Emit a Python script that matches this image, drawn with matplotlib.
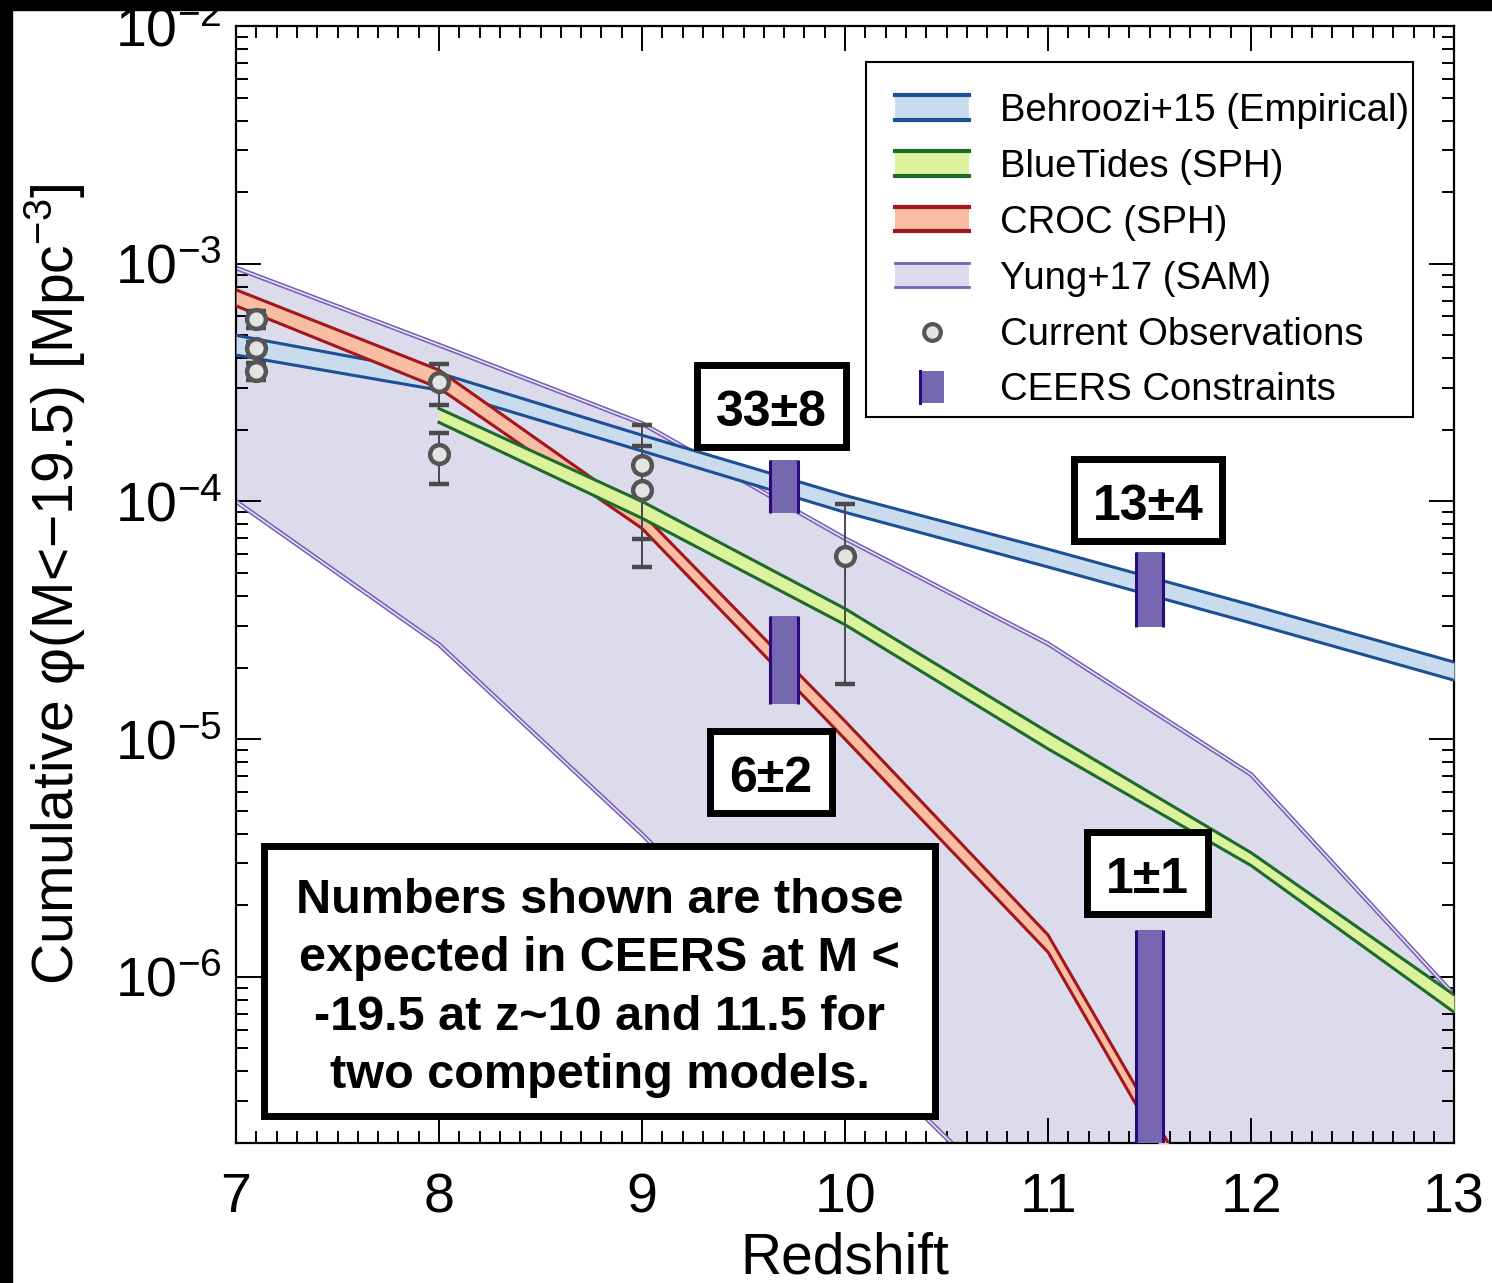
import numpy as np
import matplotlib
matplotlib.use("Agg")
import matplotlib.pyplot as plt
from matplotlib.patches import Rectangle, Patch
from matplotlib.lines import Line2D
from matplotlib.path import Path
from matplotlib.legend_handler import HandlerBase

plt.rcParams['font.family'] = ['Liberation Sans', 'DejaVu Sans']
plt.rcParams['mathtext.fontset'] = 'custom'
plt.rcParams['mathtext.rm'] = 'Liberation Sans'
plt.rcParams['mathtext.it'] = 'Liberation Sans:italic'
plt.rcParams['mathtext.bf'] = 'Liberation Sans:bold'

# ---------------- data ----------------
z_models = [7, 8, 9, 10, 11, 12, 13]
behroozi_hi = [5.0e-4, 3.47e-4, 1.90e-4, 1.06e-4, 6.3e-5, 3.67e-5, 2.11e-5]
behroozi_lo = [4.13e-4, 2.94e-4, 1.63e-4, 9.0e-5, 5.3e-5, 3.08e-5, 1.77e-5]

z_bluetides = [8, 9, 10, 11, 12, 13]
bluetides_hi = [2.46e-4, 1.0e-4, 3.54e-5, 1.07e-5, 3.33e-6, 8.4e-7]
bluetides_lo = [2.15e-4, 8.5e-5, 3.03e-5, 9.1e-6, 2.94e-6, 7.1e-7]

z_croc = [7, 8, 9, 10, 11, 12]
croc_hi = [7.77e-4, 3.57e-4, 8.9e-5, 1.19e-5, 1.50e-6, 5.0e-8]
croc_lo = [6.65e-4, 3.0e-4, 7.7e-5, 1.0e-5, 1.27e-6, 4.2e-8]

yung_hi = [9.6e-4, 4.55e-4, 2.13e-4, 6.98e-5, 2.52e-5, 7.1e-6, 8.4e-7]
yung_lo = [1.0e-4, 2.5e-5, 3.98e-6, 5.5e-7, 8.0e-8, 1.2e-8, 2.0e-9]

obs_z = [7.1, 7.1, 7.1, 8.0, 8.0, 9.0, 9.0, 10.0]
obs_phi = [5.86e-4, 4.43e-4, 3.54e-4, 3.18e-4, 1.58e-4, 1.42e-4, 1.12e-4, 5.9e-5]
obs_lo = [5.37e-4, 4.2e-4, 3.24e-4, 2.54e-4, 1.19e-4, 6.98e-5, 5.32e-5, 1.71e-5]
obs_hi = [6.34e-4, 4.7e-4, 3.82e-4, 3.79e-4, 1.95e-4, 1.71e-4, 2.09e-4, 9.8e-5]

ceers_z = [9.7, 9.7, 11.5, 11.5]
ceers_lo = [8.9e-5, 1.41e-5, 2.97e-5, 1.0e-8]
ceers_hi = [1.49e-4, 3.3e-5, 6.15e-5, 1.58e-6]
ceers_labels = ["33\u00b18", "6\u00b12", "13\u00b14", "1\u00b11"]

legend_labels = ["Behroozi+15 (Empirical)", "BlueTides (SPH)", "CROC (SPH)",
                 "Yung+17 (SAM)", "Current Observations", "CEERS Constraints"]

note = ("Numbers shown are those\nexpected in CEERS at M <\n"
        "-19.5 at z~10 and 11.5 for\ntwo competing models.")

# ---------------- colours ----------------
c_blue_f, c_blue_e = '#c9dcee', '#1c4f96'
c_green_f, c_green_e = '#dcf29c', '#1d6a2b'
c_red_f, c_red_e = '#f8bda3', '#a3161a'
c_purp_f, c_purp_e = '#dcdbec', '#7b5fb9'
c_ceers_f, c_ceers_e = '#7567b0', '#2c0a7c'

fig = plt.figure(figsize=(14.92, 12.83), dpi=100)
fig.patch.set_facecolor('white')
ax = fig.add_axes([0.1582, 0.1091, 0.8164, 0.8706])

# Yung band
ax.fill_between(z_models, yung_lo, yung_hi, color=c_purp_f, lw=0, zorder=1)
for arr in (yung_hi, yung_lo):
    ax.plot(z_models, arr, color=c_purp_e, lw=3.4, zorder=2, solid_capstyle='butt')
    ax.plot(z_models, arr, color='#ece8f6', lw=1.1, zorder=2.1, solid_capstyle='butt')

def band(z, lo, hi, fc, ec, zo):
    ax.fill_between(z, lo, hi, color=fc, lw=0, zorder=zo)
    ax.plot(z, hi, color=ec, lw=2.2, zorder=zo + 0.1)
    ax.plot(z, lo, color=ec, lw=2.2, zorder=zo + 0.1)

band(z_models, behroozi_lo, behroozi_hi, c_blue_f, c_blue_e, 3)
band(z_croc, croc_lo, croc_hi, c_red_f, c_red_e, 4)
band(z_bluetides, bluetides_lo, bluetides_hi, c_green_f, c_green_e, 5)

# observations
obs_phi_a = np.array(obs_phi)
yerr = [obs_phi_a - np.array(obs_lo), np.array(obs_hi) - obs_phi_a]
ax.errorbar(obs_z, obs_phi, yerr=yerr, fmt='o', ms=13.5, mfc='#e4e4e4', mec='#555555',
            mew=3.2, ecolor='#4a4a4a', elinewidth=1.4, capsize=7, capthick=1.4, zorder=7)

# CEERS bars
bw = 0.135
ceers_lo_a = np.array(ceers_lo)
ceers_hi_a = np.array(ceers_hi)
ax.bar(ceers_z, ceers_hi_a - ceers_lo_a, bottom=ceers_lo_a, width=bw, color=c_ceers_f,
       lw=0, zorder=8)
for zc, lo, hi in zip(ceers_z, ceers_lo, ceers_hi):
    ax.vlines([zc - bw / 2, zc + bw / 2], lo, hi, color=c_ceers_e, lw=2.2, zorder=8.1)

# axes setup
ax.set_yscale('log')
ax.set_xlim(7, 13)
ax.set_ylim(2.0e-7, 1e-2)
ax.set_xticks([7, 8, 9, 10, 11, 12, 13])
ax.set_xticks(np.arange(7, 13.001, 0.1), minor=True)
ax.tick_params(which='both', direction='in', top=True, right=True, width=1.4,
               labelsize=40, colors='black')
ax.tick_params(which='major', length=18)
ax.tick_params(which='minor', length=8.5)
ax.tick_params(axis='x', pad=21)
ax.tick_params(axis='y', pad=10)
for s in ax.spines.values():
    s.set_linewidth(1.6)
ax.set_xlabel('Redshift', fontsize=41, labelpad=5)
ax.set_ylabel('Cumulative \u03c6(M<\u221219.5) [Mpc$^{-3}$]', fontsize=41, labelpad=19)

# custom boxstyle with separate horizontal / bottom / top padding
def rect_box(padx, pad_bottom, pad_top):
    def f(x0, y0, width, height, mutation_size):
        px = padx * mutation_size
        pb = pad_bottom * mutation_size
        pt = pad_top * mutation_size
        return Path([(x0 - px, y0 - pb), (x0 + width + px, y0 - pb),
                     (x0 + width + px, y0 + height + pt), (x0 - px, y0 + height + pt),
                     (x0 - px, y0 - pb)], closed=True)
    return f

label_pos = [(0.4392, 0.6535), (0.4392, 0.3258), (0.7488, 0.5694), (0.748, 0.2354)]
for (xp, yp), lab in zip(label_pos, ceers_labels):
    ax.text(xp, yp, lab, transform=ax.transAxes, fontsize=36, fontweight='bold',
            ha='center', va='center', zorder=10,
            bbox=dict(boxstyle=rect_box(0.38, 0.215, 0.495), fc='white', ec='black', lw=5))

ax.text(0.2984, 0.1387, note, transform=ax.transAxes, fontsize=35, fontweight='bold',
        ha='center', va='center', linespacing=1.383, zorder=10,
        bbox=dict(boxstyle=rect_box(0.66, 0.376, 0.664), fc='white', ec='black', lw=5))

# legend
class BandHandler(HandlerBase):
    def __init__(self, fc, ec, lw):
        super().__init__()
        self.fc, self.ec, self.lw = fc, ec, lw
    def create_artists(self, legend, orig_handle, xdescent, ydescent, width, height,
                       fontsize, trans):
        x0, y0 = -xdescent, -ydescent
        r = Rectangle((x0, y0), width, height, fc=self.fc, ec='none', transform=trans)
        l1 = Line2D([x0, x0 + width], [y0 + height] * 2, color=self.ec, lw=self.lw, transform=trans)
        l2 = Line2D([x0, x0 + width], [y0] * 2, color=self.ec, lw=self.lw, transform=trans)
        return [r, l1, l2]

class BarHandler(HandlerBase):
    def create_artists(self, legend, orig_handle, xdescent, ydescent, width, height,
                       fontsize, trans):
        w = 0.32 * width
        h = height * 1.3
        x0 = -xdescent + (width - w) / 2
        y0 = -ydescent + (height - h) / 2
        r = Rectangle((x0, y0), w, h, fc=c_ceers_f, ec='none', transform=trans)
        l1 = Line2D([x0, x0], [y0, y0 + h], color=c_ceers_e, lw=2.2, transform=trans)
        return [r, l1]

# legend frame drawn separately so that the rows sit where they do in the original
ax.add_patch(Rectangle((0.5172, 0.6500), 0.4491, 0.3178, transform=ax.transAxes,
                       fc='white', ec='black', lw=1.5, zorder=10.5, clip_on=False))

h_b = Patch(label=legend_labels[0])
h_g = Patch(label=legend_labels[1])
h_r = Patch(label=legend_labels[2])
h_y = Patch(label=legend_labels[3])
h_o = Line2D([], [], ls='none', marker='o', ms=12, mfc='#e4e4e4', mec='#555555', mew=3.0)
h_c = Patch(label=legend_labels[5])
leg = ax.legend([h_b, h_g, h_r, h_y, h_o, h_c], legend_labels,
                handler_map={h_b: BandHandler(c_blue_f, c_blue_e, 3),
                             h_g: BandHandler(c_green_f, c_green_e, 3),
                             h_r: BandHandler(c_red_f, c_red_e, 3),
                             h_y: BandHandler(c_purp_f, c_purp_e, 2),
                             h_c: BarHandler()},
                loc='upper left', bbox_to_anchor=(0.541, 0.940), borderaxespad=0,
                fontsize=27.5, handlelength=1.95, handleheight=0.6, handletextpad=0.8,
                labelspacing=0.52, borderpad=0.0, frameon=False)
leg.set_zorder(11)

# black border strips of the original image
fig.add_artist(Rectangle((0, 1 - 10 / 1283), 1, 10 / 1283, transform=fig.transFigure,
                         color='black', zorder=20))
fig.add_artist(Rectangle((0, 0), 12 / 1492, 1, transform=fig.transFigure,
                         color='black', zorder=20))

fig.savefig('out.png', dpi=100, facecolor='white')
